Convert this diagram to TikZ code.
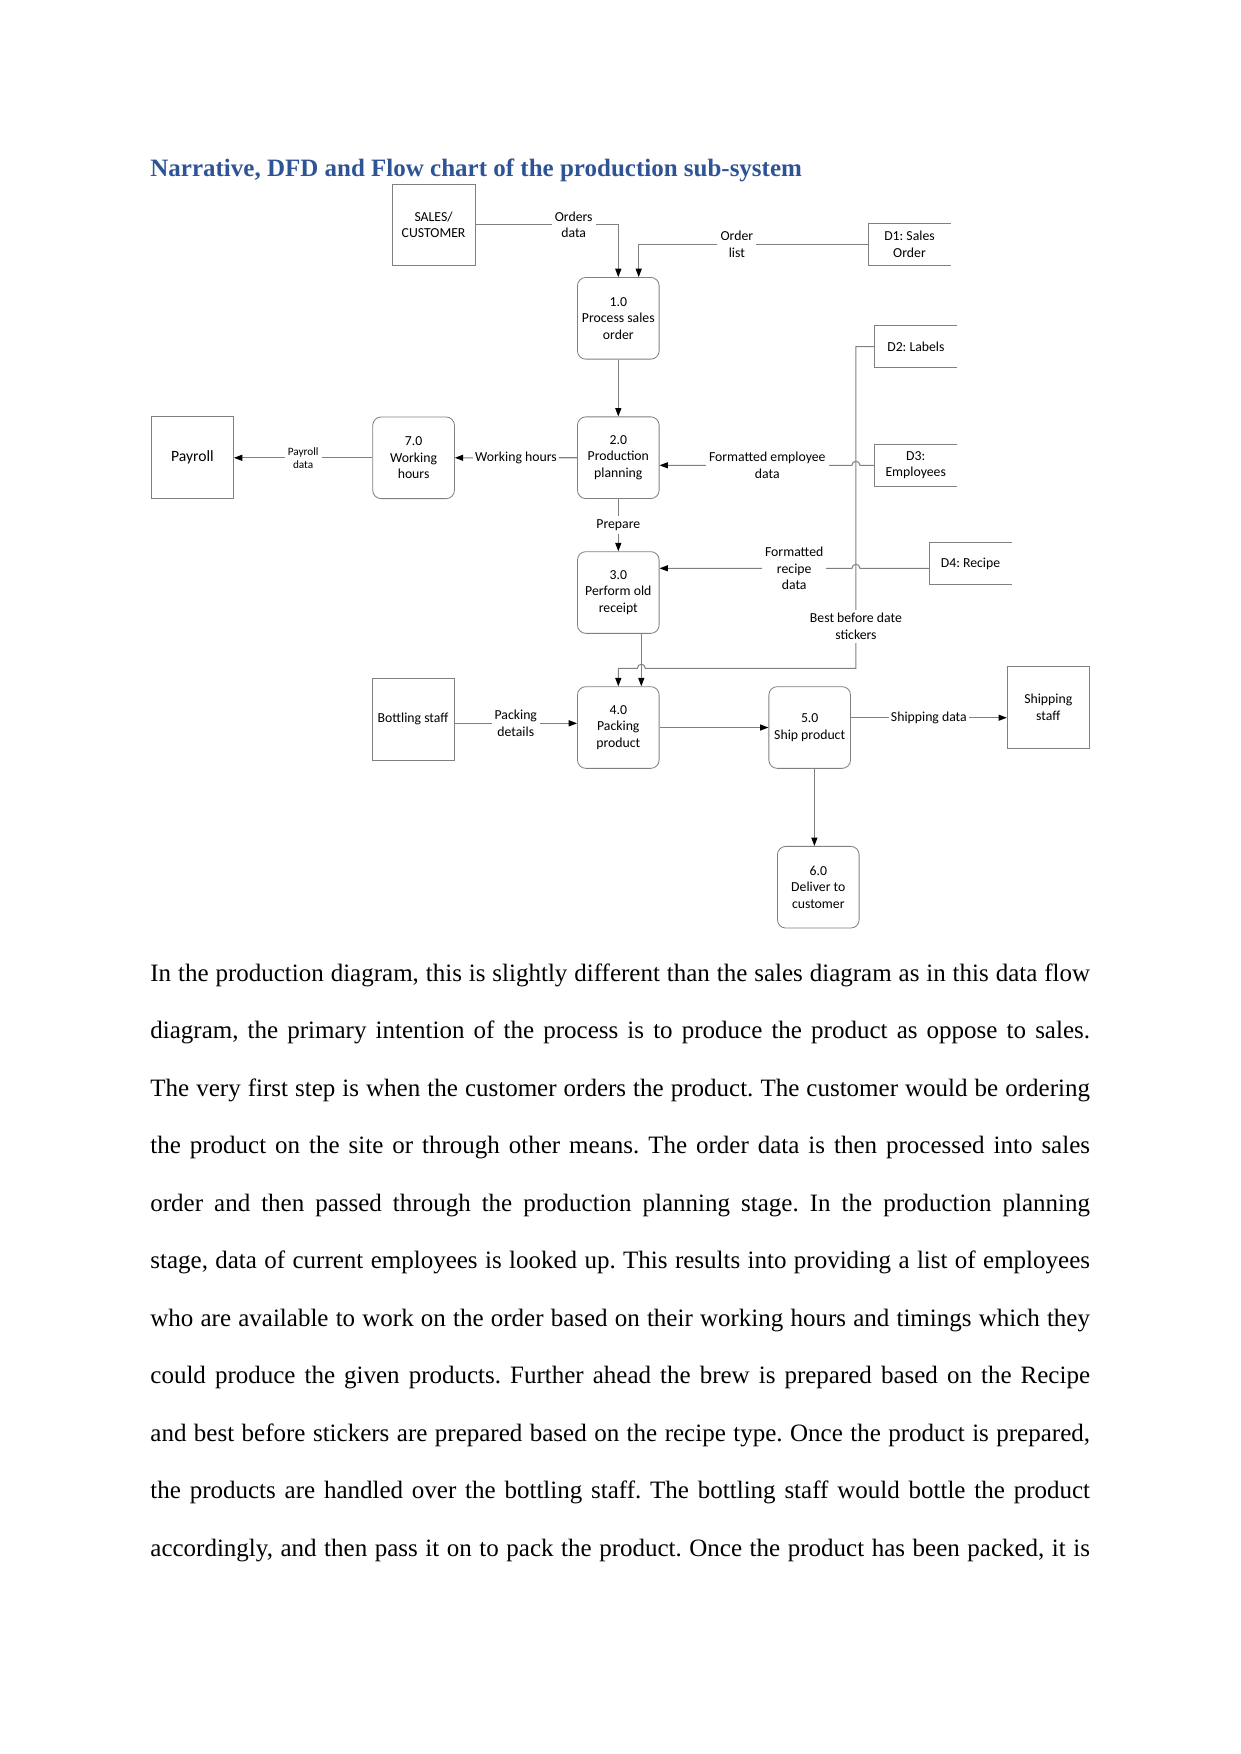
\documentclass[tikz,border=0pt]{standalone}
\usepackage{fontspec}
\setmainfont{Liberation Serif}
\newfontfamily\dfdfont{Carlito}
\usepackage{xcolor}
\usetikzlibrary{arrows.meta,positioning,calc}

\definecolor{headblue}{RGB}{47,84,150}
\definecolor{linegray}{RGB}{128,128,128}
\newcommand{\dfdsize}{\dfdfont\fontsize{6.6}{7.9}\selectfont}
\newcommand{\dfdsmall}{\dfdfont\fontsize{5.4}{6.4}\selectfont}
\frenchspacing

\tikzset{
  proc/.style={draw=linegray, rounded corners=4pt, minimum width=39.2pt, minimum height=39.2pt,
    inner sep=0pt, align=center, font=\dfdsize},
  entity/.style={draw=linegray, minimum width=39.4pt, minimum height=39.4pt,
    inner sep=0pt, align=center, font=\dfdsize},
  store/.style={minimum width=39.4pt, minimum height=19.8pt, inner sep=0pt, align=center, font=\dfdsize},
  lbl/.style={fill=white, inner sep=1.5pt, align=center, font=\dfdsize},
  flow/.style={draw=linegray, line width=0.5pt, -{Triangle[length=4pt, width=2.9pt, color=black]}},
  plain/.style={draw=linegray, line width=0.5pt},
}

\begin{document}
\begin{tikzpicture}[x=0.48pt, y=-0.48pt]
    \useasboundingbox (0,0) rectangle (1241,1754);

    \node[anchor=base west, inner sep=0pt, text=headblue, font=\bfseries\fontsize{12}{14}\selectfont]
        (title) at (150,176.5) {Narrative, DFD and Flow chart of the production sub-system};

    % external entities
    \node[entity, minimum width=39.7pt, minimum height=38.6pt] (sales) at (433.6,224.8) {SALES/\\CUSTOMER};
    \node[entity, font=\dfdfont\fontsize{7.5}{9}\selectfont] (payroll) at (192.5,457.8) {Payroll};
    \node[entity] (bottling) at (413.1,719.2) {Bottling staff};
    \node[entity] (ship) at (1048.3,707.2) {Shipping\\staff};

    % processes
    \node[proc] (p1) at (618.3,318.3) {1.0\\Process sales\\order};
    \node[proc] (p2) at (618.3,457.7) {2.0\\Production\\planning};
    \node[proc] (p3) at (618.3,592.5) {3.0\\Perform old\\receipt};
    \node[proc] (p4) at (618.3,727.5) {4.0\\Packing\\product};
    \node[proc] (p5) at (809.7,727.5) {5.0\\Ship product};
    \node[proc] (p6) at (818.3,887.2) {6.0\\Deliver to\\customer};
    \node[proc] (p7) at (413.6,457.8) {7.0\\Working\\hours};

    % data stores
    \node[store] (d1) at (909.5,244.2) {D1: Sales\\Order};
    \node[store] (d2) at (915.9,346.7) {D2: Labels};
    \node[store] (d3) at (915.7,465.3) {D3:\\Employees};
    \node[store] (d4) at (970.5,563.8) {D4: Recipe};
    \foreach \s in {d1,d2,d3,d4}
        \draw[plain] (\s.north east) -- (\s.north west) -- (\s.south west) -- (\s.south east);

    % helper points
    \coordinate (p1in) at ($(p1.north)+(20.4,0)$);
    \coordinate (p3out) at ($(p3.south)+(23,0)$);
    \coordinate (stk) at ($(d2.west)+(-18.5,0)$);
    \coordinate (stkend) at ($(stk)+(0,321.6)$);
    \coordinate (d4out) at ($(d4.west)+(0,4.5)$);
    \coordinate (botout) at ($(bottling.east)+(0,4.1)$);
    \coordinate (p5r) at ($(p5.east)+(0,-9.8)$);
    \coordinate (p5b) at ($(p5.south)+(4.7,0)$);

    % flows
    \draw[flow] (sales.east) -| node[lbl, pos=0.344] {Orders\\data} (p1.north);
    \draw[flow] (d1.west) -| node[lbl, pos=0.286] {Order\\list} (p1in);
    \draw[flow] (p1) -- (p2);
    \draw[flow] (p2) -- node[lbl, inner sep=1pt] {Working hours} (p7);
    \draw[flow] (p7) -- node[lbl, font=\dfdsmall] {Payroll\\data} (payroll);
    \draw[flow] (p2) -- node[lbl] {Prepare} (p3);
    \draw[flow] (d3.west) -- ($(d3.west -| stk)+(4,0)$)
        .. controls ($(d3.west -| stk)+(4,-5.3)$) and ($(d3.west -| stk)+(-4,-5.3)$) .. ($(d3.west -| stk)+(-4,0)$)
        -- node[lbl, pos=0.44] {Formatted employee\\data} (d3.west -| p2.east);
    \draw[flow] (d4out) -- ($(d4out -| stk)+(4,0)$)
        .. controls ($(d4out -| stk)+(4,-5.3)$) and ($(d4out -| stk)+(-4,-5.3)$) .. ($(d4out -| stk)+(-4,0)$)
        -- node[lbl, pos=0.30] {Formatted\\recipe\\data} (d4out -| p3.east);
    \draw[flow] (d2.west) -- (stk) -- node[lbl, pos=0.87] {Best before date\\stickers} (stkend)
        -- ($(stkend -| p3out)+(4,0)$)
        .. controls ($(stkend -| p3out)+(4,-5.3)$) and ($(stkend -| p3out)+(-4,-5.3)$) .. ($(stkend -| p3out)+(-4,0)$)
        -- (stkend -| p4.north) -- (p4.north);
    \draw[flow] (p3out) -- (p3out |- p4.north);
    \draw[flow] (botout) -- node[lbl] {Packing\\details} (botout -| p4.west);
    \draw[flow] (p4) -- (p5);
    \draw[flow] (p5r) -- node[lbl, inner sep=1pt] {Shipping data} (p5r -| ship.west);
    \draw[flow] (p5b) -- (p5b |- p6.north);

    % narrative
    \foreach \ln [count=\k from 0] in {
        {In the production diagram, this is slightly different than the sales diagram as in this data flow},
        {diagram, the primary intention of the process is to produce the product as oppose to sales.},
        {The very first step is when the customer orders the product. The customer would be ordering},
        {the product on the site or through other means. The order data is then processed into sales},
        {order and then passed through the production planning stage. In the production planning},
        {stage, data of current employees is looked up. This results into providing a list of employees},
        {who are available to work on the order based on their working hours and timings which they},
        {could produce the given products. Further ahead the brew is prepared based on the Recipe},
        {and best before stickers are prepared based on the recipe type. Once the product is prepared,},
        {the products are handled over the bottling staff. The bottling staff would bottle the product},
        {accordingly, and then pass it on to pack the product. Once the product has been packed, it is}}
        \node[anchor=base west, inner sep=0pt, font=\fontsize{12}{14}\selectfont]
            (line\k) at (150,{981.4+57.5*\k}) {\makebox[451pt][s]{\ln}};
\end{tikzpicture}
\end{document}
